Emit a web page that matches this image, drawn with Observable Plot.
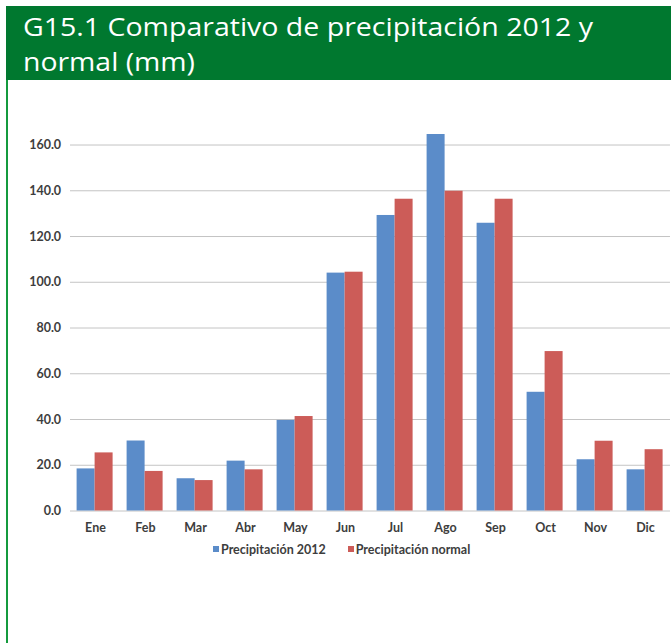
<!DOCTYPE html>
<html>
<head>
<meta charset="utf-8">
<script src="https://cdn.jsdelivr.net/npm/d3@7"></script>
<script src="https://cdn.jsdelivr.net/npm/@observablehq/plot@0.6"></script>
<style>
  html, body { margin: 0; padding: 0; background: #fff; width: 671px; height: 643px; overflow: hidden; }
  #page { position: relative; width: 671px; height: 643px; overflow: hidden; background: #fff; }
  #header { position: absolute; left: 6px; top: 6px; width: 665px; height: 74px; background: #00782f; }
  #title { position: absolute; left: 17px; top: 3px; margin: 0; color: #fff; font: 500 26px/35px "Open Sans", sans-serif; white-space: nowrap; }
  #title span { display: inline-block; transform-origin: 0 0; }
  #border { position: absolute; left: 6px; top: 80px; width: 2px; height: 563px; background: #149a3d; }
  #chart { position: absolute; left: 0; top: 120px; }
  #chart svg text { font-weight: 700; }
  #legend { position: absolute; left: 213px; top: 541px; height: 16px; display: flex; align-items: center; font: 700 12.5px Lato, sans-serif; color: #3d3d3d; white-space: nowrap; }
  .item { display: flex; align-items: center; margin-right: 22px; }
  .sw { width: 6px; height: 6px; margin-right: 2px; }
</style>
</head>
<body>
<div id="page">
  <div id="header"><h1 id="title"><span id="t1">G15.1 Comparativo de precipitación 2012 y</span><br><span id="t2">normal (mm)</span></h1></div>
  <div id="border"></div>
  <div id="chart"></div>
  <div id="legend"></div>
</div>
<script>
const months = ["Ene", "Feb", "Mar", "Abr", "May", "Jun", "Jul", "Ago", "Sep", "Oct", "Nov", "Dic"];
const seriesNames = ["Precipitación 2012", "Precipitación normal"];
const precip2012 = [18.4, 30.6, 14.1, 21.8, 39.6, 104.0, 129.2, 164.6, 125.8, 51.9, 22.4, 18.0];
const precipNormal = [25.4, 17.3, 13.3, 18.0, 41.3, 104.4, 136.3, 139.8, 136.3, 69.7, 30.5, 26.8];
const yTicks = [0, 20, 40, 60, 80, 100, 120, 140, 160];
const seriesColors = ["#5b8cc9", "#cc5c58"];

const data = [];
months.forEach((m, i) => {
  data.push({month: m, series: seriesNames[0], value: precip2012[i]});
  data.push({month: m, series: seriesNames[1], value: precipNormal[i]});
});

function fitWidth(id, target) {
  const el = document.getElementById(id);
  const w = el.getBoundingClientRect().width;
  el.style.transform = `scaleX(${target / w})`;
}
fitWidth("t1", 570);
fitWidth("t2", 172);

const chart = Plot.plot({
  width: 671,
  height: 420,
  marginTop: 14,
  marginBottom: 29.5,
  marginLeft: 73.4,
  marginRight: 4.3,
  style: {background: "transparent", fontFamily: "Lato, sans-serif", fontSize: "12.5px", color: "#3d3d3d", overflow: "visible"},
  fx: {domain: months, paddingInner: 0.275, paddingOuter: 0, axis: "bottom", tickSize: 0, tickPadding: 12, label: null},
  x: {domain: seriesNames, padding: 0, axis: null},
  y: {domain: [0, 164.6], ticks: yTicks, tickFormat: d => d.toFixed(1), tickSize: 0, tickPadding: 16.4, label: null},
  color: {domain: seriesNames, range: seriesColors},
  marks: [
    Plot.ruleY(yTicks, {stroke: "#c4c4c4", strokeWidth: 1, insetLeft: -7, insetRight: -7}),
    Plot.barY(data, {fx: "month", x: "series", y: "value", fill: "series", inset: 0})
  ]
});
document.getElementById("chart").appendChild(chart);

const legend = document.getElementById("legend");
seriesNames.forEach((s, i) => {
  const it = document.createElement("div");
  it.className = "item";
  const sw = document.createElement("span");
  sw.className = "sw";
  sw.style.background = seriesColors[i];
  const tx = document.createElement("span");
  tx.textContent = s;
  it.appendChild(sw); it.appendChild(tx);
  legend.appendChild(it);
});
</script>
</body>
</html>
